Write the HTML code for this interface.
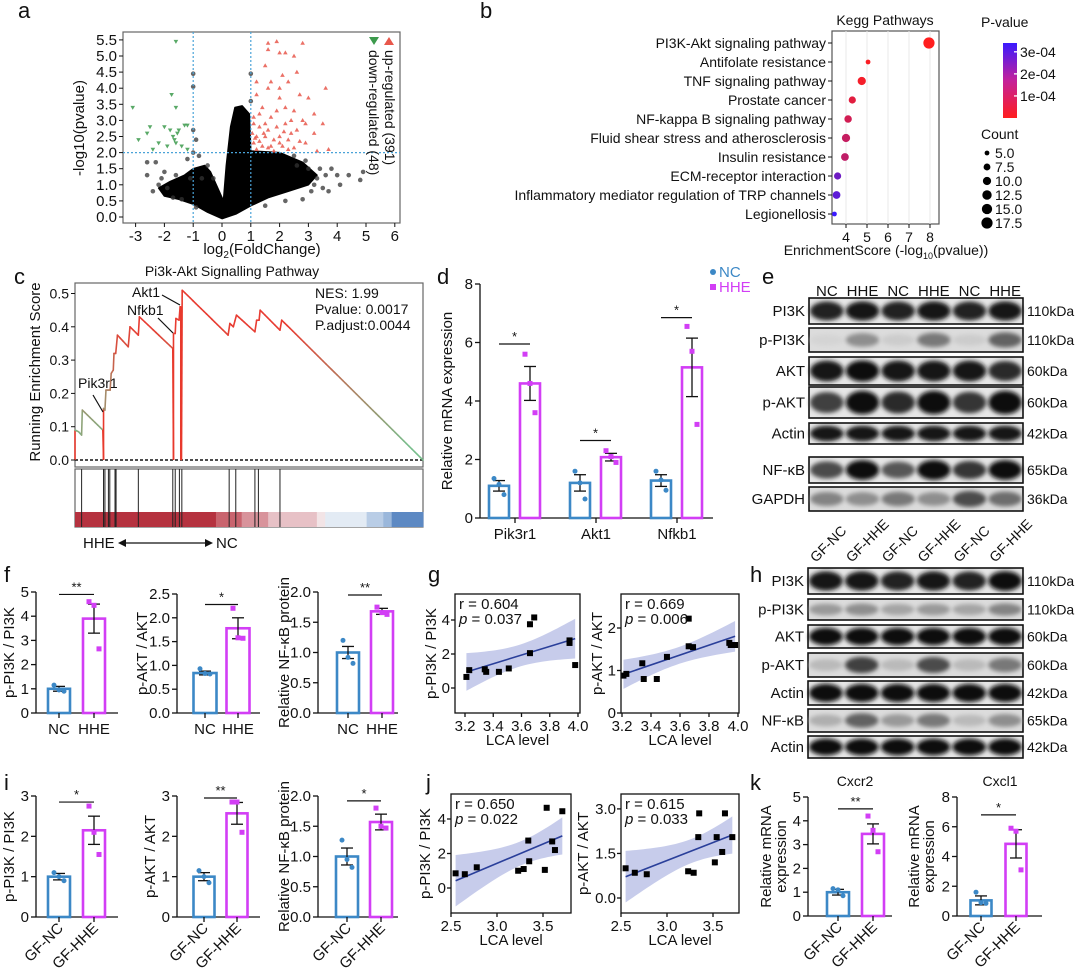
<!DOCTYPE html>
<html><head><meta charset="utf-8"><style>
html,body{margin:0;padding:0;background:#fff}
svg{display:block}
text{font-family:"Liberation Sans",Arial,sans-serif;fill:#111}
</style></head><body>
<svg id="fig" width="1080" height="971" viewBox="0 0 1080 971" xmlns="http://www.w3.org/2000/svg">
<defs>
<filter id="blur" x="-20%" y="-50%" width="140%" height="200%"><feGaussianBlur stdDeviation="2.2"/></filter>
<linearGradient id="pgrad" x1="0" y1="1" x2="0" y2="0"><stop offset="0" stop-color="#ff1e1e"/><stop offset="0.5" stop-color="#c4209a"/><stop offset="1" stop-color="#3a1aff"/></linearGradient>
</defs>
</svg>
<script>
// ---------- DATA ----------
// a: volcano
const upPts=[[1.6,5.4],[1.9,5.45],[2.8,5.4],[1.6,5.2],[2.0,5.1],[2.2,5.1],[2.5,5.0],[1.5,4.7],[2.6,4.5],[2.1,4.4],[1.2,4.2],[1.7,4.2],[2.3,4.2],[1.6,4.0],[2.0,4.0],[2.7,3.8],[3.6,4.0],[1.2,3.8],[2.0,3.7],[3.0,3.7],[1.4,3.4],[2.2,3.4],[2.5,3.3],[3.2,3.2],[1.1,3.1],[1.7,3.1],[2.4,3.0],[2.9,2.9],[3.5,2.9],[1.3,2.8],[1.9,2.8],[2.6,2.7],[3.2,2.6],[1.2,2.5],[1.5,2.5],[2.0,2.5],[2.3,2.4],[2.9,2.3],[1.1,2.3],[1.4,2.2],[1.7,2.2],[2.1,2.2],[2.5,2.15],[3.7,2.1],[1.2,2.1],[1.8,2.05],[3.3,2.05],[1.05,2.6],[1.6,2.7],[2.2,2.9],[1.3,3.2],[1.8,2.4],[2.7,2.35],[1.5,2.9],[2.4,2.6],[1.1,2.9],[1.9,3.3],[2.8,3.0],[1.3,2.35],[1.6,2.15],[2.0,2.3],[2.3,2.1],[1.15,2.45],[1.45,2.6],[2.15,2.65]];
const downPts=[[-1.6,5.45],[-1.75,3.8],[-1.6,3.4],[-3.1,3.4],[-2.5,2.8],[-2.0,2.8],[-1.8,2.7],[-1.5,2.7],[-1.3,2.85],[-1.2,2.85],[-1.55,2.6],[-1.7,2.5],[-2.9,2.4],[-2.2,2.3],[-1.6,2.3],[-1.4,2.2],[-1.9,2.2],[-2.4,2.1],[-1.2,2.1],[-2.6,2.6],[-1.65,2.4]];
const nsPts=[[-1,4.45],[-1,4.05],[1,4.45],[1,3.6],[-2.6,1.3],[-2.6,1.7],[4.9,1.4],[4.8,1.15],[4.4,1.3],[4.1,1.0],[3.8,1.5],[3.5,0.9],[-1.0,2.7],[-0.9,2.4],[-1.0,2.0],[-2.2,1.0],[-2.3,1.7],[-1.7,0.6],[3.0,1.5],[2.6,1.6],[3.3,1.2],[-2.0,1.4],[-1.2,1.8],[-0.8,1.9],[-2.4,0.8],[-2.1,1.2],[-1.9,0.9],[-1.6,1.3],[-1.4,0.55],[-0.9,0.3],[-0.5,1.6],[-0.7,1.2],[-1.1,1.2],[-0.3,1.2],[3.1,0.8],[3.4,1.5],[2.8,0.55],[2.5,1.9],[3.6,1.3],[2.2,0.5],[1.5,0.35],[3.2,1.0],[2.9,1.75],[4.0,1.3],[3.7,0.8]];
const cloudShape=[[0,-0.05],[0.5,0.1],[1,0.35],[1.6,0.6],[2.3,0.8],[3,1.0],[3.3,1.3],[2.8,1.7],[2.0,2.0],[1.0,2.05],[0.95,3.2],[0.7,3.45],[0.45,3.4],[0.3,2.8],[0.15,1.6],[0.05,0.5],[-0.1,0.8],[-0.4,1.4],[-0.6,1.6],[-1.0,1.5],[-1.3,1.3],[-1.8,1.1],[-2.2,0.9],[-2.0,0.65],[-1.5,0.55],[-1.0,0.4],[-0.5,0.15]];
const volXTicks=[-3,-2,-1,0,1,2,3,4,5,6];
const volYTicks=[0,0.5,1,1.5,2,2.5,3,3.5,4,4.5,5,5.5];
// b: KEGG
const keggTerms=['PI3K-Akt signaling pathway','Antifolate resistance','TNF signaling pathway','Prostate cancer','NF-kappa B signaling pathway','Fluid shear stress and atherosclerosis','Insulin resistance','ECM-receptor interaction','Inflammatory mediator regulation of TRP channels','Legionellosis'];
const keggScore=[7.95,5.05,4.75,4.3,4.1,4.0,3.95,3.6,3.55,3.45];
const keggCount=[17.5,5,10,8,8.5,10,9,8,9,5];
const keggP=[1e-8,9e-6,1.8e-5,5e-5,8e-5,1e-4,1.1e-4,2.5e-4,2.8e-4,3.4e-4];
const keggXTicks=[4,5,6,7,8];
const countLegend=[5.0,7.5,10.0,12.5,15.0,17.5];
// c: GSEA
const gseaRank=[0,0,10,19,21,80,82,82,86,89,101,104,110,112,117,122,153,158,182,185,281,283,283,288,290,299,302,304,304,306,308,440,445,455,464,517,522,529,532,589,594,1000];
const gseaES=[0,0.09,0.085,0.075,0.15,0.09,0,0.155,0.15,0.21,0.21,0.26,0.27,0.32,0.32,0.375,0.34,0.40,0.375,0.43,0.335,0,0.38,0.38,0.425,0.42,0.46,0.46,0,0,0.51,0.375,0.41,0.40,0.435,0.385,0.42,0.42,0.45,0.39,0.42,0];
const gseaHits=[19,82,86,96,100,115,118,182,281,288,300,307,443,462,517,527,589];
const gseaYTicks=[0,0.1,0.2,0.3,0.4,0.5];
// d
const dGenes=['Pik3r1','Akt1','Nfkb1'];
const dNC=[1.1,1.2,1.28], dNCsem=[0.18,0.28,0.2];
const dHHE=[4.6,2.08,5.15], dHHEsem=[0.58,0.13,1.0];
const dNCpts=[[1.35,1.15,0.8],[1.6,1.2,0.65],[1.6,1.3,0.95]];
const dHHEpts=[[5.6,4.6,3.6],[2.3,2.1,1.9],[6.55,5.7,3.2]];
const dSig=[5.95,2.65,6.85];
// f
const f1Means=[1.0,3.9], f1Sems=[0.1,0.6], f1Pts=[[1.15,0.95,0.9],[4.6,4.45,2.65]];
const f2Means=[0.84,1.78], f2Sems=[0.04,0.22], f2Pts=[[0.93,0.83,0.82],[2.2,1.58,1.57]];
const f3Means=[1.0,1.68], f3Sems=[0.1,0.05], f3Pts=[[1.2,0.92,0.82],[1.75,1.66,1.63]];
// i
const i1Means=[1.0,2.15], i1Sems=[0.08,0.35], i1Pts=[[1.1,1.0,0.9],[2.75,2.1,1.55]];
const i2Means=[1.0,2.57], i2Sems=[0.1,0.27], i2Pts=[[1.15,1.0,0.85],[2.85,2.85,2.1]];
const i3Means=[1.0,1.57], i3Sems=[0.14,0.13], i3Pts=[[1.27,0.95,0.82],[1.8,1.5,1.47]];
// k
const k1Means=[1.0,3.45], k1Sems=[0.12,0.42], k1Pts=[[1.15,1.1,0.85],[4.2,3.6,2.7]];
const k2Means=[1.05,4.85], k2Sems=[0.3,0.95], k2Pts=[[1.6,0.9,0.85],[5.9,5.7,3.1]];
// g / j scatter
const g1X=[3.21,3.23,3.34,3.35,3.44,3.51,3.66,3.66,3.69,3.94,3.94,3.98], g1Y=[0.65,1.05,1.1,0.95,0.95,1.15,2.05,3.75,4.15,2.8,2.65,1.35];
const g2X=[3.21,3.23,3.34,3.35,3.44,3.51,3.66,3.69,3.66,3.94,3.95,3.98], g2Y=[0.88,0.92,1.17,0.8,0.8,1.32,1.57,1.55,2.22,1.65,1.6,1.6];
const j1X=[2.55,2.65,2.78,3.23,3.29,3.34,3.35,3.52,3.54,3.6,3.63,3.71], j1Y=[0.85,0.8,1.2,1.0,1.1,2.75,1.55,1.05,4.65,2.7,2.2,4.45];
const j2X=[2.55,2.65,2.78,3.23,3.29,3.34,3.35,3.52,3.54,3.6,3.63,3.71], j2Y=[1.0,0.85,0.8,0.9,0.85,2.05,2.85,1.2,2.05,1.55,2.85,2.05];
// blots
const eLanes=['NC','HHE','NC','HHE','NC','HHE'];
const eRows=['PI3K','p-PI3K','AKT','p-AKT','Actin','NF-κB','GAPDH'];
const eKda=['110kDa','110kDa','60kDa','60kDa','42kDa','65kDa','36kDa'];
const eInt=[[0.9,0.95,0.9,0.95,0.9,0.95],[0.08,0.4,0.12,0.5,0.12,0.6],[0.95,1,0.95,0.95,0.95,0.85],[0.75,1,0.85,1,0.8,1],[0.95,0.95,0.95,0.95,0.95,0.95],[0.7,1,0.65,1,0.8,1],[0.45,0.4,0.5,0.4,0.7,0.55]];
const hLanes=['GF-NC','GF-HHE','GF-NC','GF-HHE','GF-NC','GF-HHE'];
const hRows=['PI3K','p-PI3K','AKT','p-AKT','Actin','NF-κB','Actin'];
const hKda=['110kDa','110kDa','60kDa','60kDa','42kDa','65kDa','42kDa'];
const hInt=[[0.95,0.95,0.9,0.95,0.9,1],[0.35,0.4,0.3,0.35,0.3,0.45],[1,1,1,1,1,1],[0.2,0.75,0.2,0.7,0.2,0.5],[1,1,1,1,1,1],[0.25,0.6,0.35,0.5,0.2,0.4],[1,1,1,1,1,1]];

// ---------- HELPERS ----------
const NS='http://www.w3.org/2000/svg';
const svg=document.getElementById('fig');
const BLUE='#3c88c6', MAG='#d23ef5';
function mk(tag,a,name,parent){
  const el=document.createElementNS(NS,tag);
  for(const k in a) el.setAttribute(k,a[k]);
  
  
  (parent||svg).appendChild(el);
  return el;
}
function tx(x,y,s,o,name){const el=mk('text',Object.assign({x:x,y:y,'font-size':14},o||{}),name);el.textContent=s;return el;}
function ln(x1,y1,x2,y2,o,name){return mk('line',Object.assign({x1:x1,y1:y1,x2:x2,y2:y2,stroke:'#111','stroke-width':1.3},o||{}),name);}

[['a',18,18],['b',480,18],['c',14,284],['d',437,284],['e',762,284],['f',4,582],['g',428,582],['h',750,582],['i',4,790],['j',426,790],['k',750,790]].forEach(p=>tx(p[1],p[2],p[0],{'font-size':22},'panel-label-'+p[0]));

// ---------- a: volcano ----------
(function(){
  const X=v=>222+v*28.8, Y=v=>217-v*32.2;
  mk('rect',{x:123,y:32,width:277,height:191,fill:'none',stroke:'#666','stroke-width':1.2},'volcano-frame');
  mk('polygon',{points:cloudShape.map(p=>X(p[0])+','+Y(p[1])).join(' '),fill:'#000','stroke':'#000','stroke-width':1.5,'stroke-linejoin':'round'},'ns-gene-cloud');
  nsPts.forEach(p=>mk('circle',{cx:X(p[0]),cy:Y(p[1]),r:2.3,fill:'#333','fill-opacity':0.75},'ns-point'));
  upPts.forEach(p=>{const x=X(p[0]),y=Y(p[1]);mk('polygon',{points:`${x},${y-2.4} ${x-2.3},${y+1.6} ${x+2.3},${y+1.6}`,fill:'#e8574b','fill-opacity':0.85},'up-point');});
  downPts.forEach(p=>{const x=X(p[0]),y=Y(p[1]);mk('polygon',{points:`${x},${y+2.4} ${x-2.3},${y-1.6} ${x+2.3},${y-1.6}`,fill:'#3c9a4c','fill-opacity':0.85},'down-point');});
  [-1,1].forEach(v=>ln(X(v),32,X(v),223,{stroke:'#4aa3d8','stroke-dasharray':'2,2','stroke-width':1.2},'fc-threshold'));
  ln(123,Y(2),400,Y(2),{stroke:'#4aa3d8','stroke-dasharray':'2,2','stroke-width':1.2},'p-threshold');
  volXTicks.forEach(v=>{ln(X(v),223,X(v),227,{'stroke-width':1},'x-tick');tx(X(v),241,String(v),{'text-anchor':'middle','font-size':15},'x-tick-label');});
  volYTicks.forEach(v=>{ln(119,Y(v),123,Y(v),{'stroke-width':1},'y-tick');tx(117,Y(v)+5,v.toFixed(1),{'text-anchor':'end','font-size':15},'y-tick-label');});
  const xl=tx(262,254,'log',{'text-anchor':'middle','font-size':15},'x-axis-title');
  xl.innerHTML='log<tspan font-size="10" dy="4">2</tspan><tspan dy="-4">(FoldChange)</tspan>';
  tx(0,0,'-log10(pvalue)',{'text-anchor':'middle','font-size':15,transform:'translate(84,128) rotate(-90)'},'y-axis-title');
  mk('polygon',{points:'369,37 379,37 374,45',fill:'#3c9a4c'},'legend-down-marker');
  mk('polygon',{points:'384,45 394,45 389,37',fill:'#e8574b'},'legend-up-marker');
  tx(0,0,'up-regulated (391)',{'font-size':14,transform:'translate(385,50) rotate(90)'},'legend-up-label');
  tx(0,0,'down-regulated (48)',{'font-size':14,transform:'translate(369,50) rotate(90)'},'legend-down-label');
})();

// ---------- b: KEGG dot plot ----------
(function(){
  const X=v=>846+(v-4)*21, rowY=i=>43+i*19;
  mk('rect',{x:832,y:31,width:107,height:193,fill:'none',stroke:'#555','stroke-width':1.2},'kegg-frame');
  keggXTicks.forEach(v=>ln(X(v),31,X(v),224,{stroke:'#e8e8e8','stroke-width':1},'kegg-grid'));
  tx(885,25,'Kegg Pathways',{'text-anchor':'middle','font-size':14},'kegg-title');
  const pmax=3.4e-4;
  function pcol(p){const t=Math.min(1,p/pmax);const r=Math.round(255+(58-255)*t),g=Math.round(30+(26-30)*t),b=Math.round(30+(255-30)*t);return `rgb(${r},${g},${b})`;}
  const rad=c=>1.2+Math.sqrt((c-4)/13.5)*4.4;
  keggTerms.forEach((t,i)=>{
    tx(826,rowY(i)+5,t,{'text-anchor':'end','font-size':14},'kegg-term-label');
    ln(828,rowY(i),832,rowY(i),{'stroke-width':1},'y-tick');
    mk('circle',{cx:X(keggScore[i]),cy:rowY(i),r:rad(keggCount[i]),fill:pcol(keggP[i])},'kegg-dot');
  });
  keggXTicks.forEach(v=>{ln(X(v),224,X(v),228,{'stroke-width':1},'x-tick');tx(X(v),242,String(v),{'text-anchor':'middle','font-size':14},'x-tick-label');});
  const xl=tx(886,255,'',{'text-anchor':'middle','font-size':14},'x-axis-title');
  xl.innerHTML='EnrichmentScore (-log<tspan font-size="9" dy="4">10</tspan><tspan dy="-4">(pvalue))</tspan>';
  tx(981,27,'P-value',{'font-size':14},'pvalue-legend-title');
  mk('rect',{x:1003,y:43,width:14,height:75,fill:'url(#pgrad)'},'pvalue-colorbar');
  [['3e-04',3e-4],['2e-04',2e-4],['1e-04',1e-4]].forEach(p=>{const y=118-p[1]/pmax*75;ln(1014,y,1017,y,{stroke:'#fff'},'cb-tick');tx(1020,y+5,p[0],{'font-size':14},'colorbar-label');});
  tx(981,139,'Count',{'font-size':14},'count-legend-title');
  countLegend.forEach((c,i)=>{const y=153+i*14;mk('circle',{cx:987,cy:y,r:rad(c),fill:'#000'},'count-legend-dot');tx(995,y+5,c.toFixed(1),{'font-size':14},'count-legend-label');});
})();

// ---------- c: GSEA ----------
(function(){
  const X=r=>75+r/1000*348, Y=v=>460-v*333;
  mk('rect',{x:75,y:283,width:348,height:184,fill:'none',stroke:'#666','stroke-width':1.2},'gsea-frame');
  tx(232,276,'Pi3k-Akt Signalling Pathway',{'text-anchor':'middle','font-size':14},'gsea-title');
  ln(75,Y(0),423,Y(0),{'stroke-dasharray':'3,2','stroke-width':1.6},'zero-line');
  const colOf=e=>{const t=Math.max(0,Math.min(1,(e-0.04)/0.36));return `rgb(${Math.round(120+(232-120)*t)},${Math.round(190+(60-190)*t)},${Math.round(140+(50-140)*t)})`;};
  for(let i=1;i<gseaRank.length;i++){
    const r0=gseaRank[i-1],r1=gseaRank[i],e0=gseaES[i-1],e1=gseaES[i];
    if(r1-r0<=2&&(e1===0||e0===0)){ln(X(r0),Y(e0),X(r1),Y(e1),{stroke:'#e8392c','stroke-width':1.6},'es-curve-drop');continue;}
    const n=Math.max(1,Math.ceil((r1-r0)/8));
    for(let k=0;k<n;k++){
      const ra=r0+(r1-r0)*k/n,rb=r0+(r1-r0)*(k+1)/n,ea=e0+(e1-e0)*k/n,eb=e0+(e1-e0)*(k+1)/n;
      ln(X(ra),Y(ea),X(rb),Y(eb),{stroke:colOf((ea+eb)/2),'stroke-width':1.6,'stroke-linecap':'round'},'es-curve-segment');
    }
  }
  gseaYTicks.forEach(v=>{ln(71,Y(v),75,Y(v),{'stroke-width':1},'y-tick');tx(69,Y(v)+5,v.toFixed(1),{'text-anchor':'end','font-size':14},'y-tick-label');});
  tx(0,0,'Running Enrichment Score',{'text-anchor':'middle','font-size':15,transform:'translate(40,372) rotate(-90)'},'y-axis-title');
  tx(315,298,'NES: 1.99',{'font-size':14},'nes-text');
  tx(315,314,'Pvalue: 0.0017',{'font-size':14},'pvalue-text');
  tx(315,330,'P.adjust:0.0044',{'font-size':14},'padjust-text');
  tx(78,388,'Pik3r1',{'font-size':14},'gene-label-pik3r1');
  ln(93,395,103,412,{'stroke-width':1.2},'arrow-pik3r1');
  tx(127,315,'Nfkb1',{'font-size':14},'gene-label-nfkb1');
  ln(158,318,173,333,{'stroke-width':1.2},'arrow-nfkb1');
  tx(132,297,'Akt1',{'font-size':14},'gene-label-akt1');
  ln(162,295,180,305,{'stroke-width':1.2},'arrow-akt1');
  mk('rect',{x:75,y:469,width:348,height:58,fill:'none',stroke:'#666','stroke-width':1.2},'rug-frame');
  const segs=[[0,405,'#b5323f'],[405,479,'#c9646e'],[479,555,'#d8939b'],[555,695,'#e7c1c6'],[695,719,'#f2e4e6'],[719,838,'#e3ebf4'],[838,886,'#b9cde6'],[886,910,'#9ab7db'],[910,1000,'#5d89c3']];
  segs.forEach(s=>mk('rect',{x:X(s[0]),y:512,width:X(s[1])-X(s[0])+0.5,height:15,fill:s[2]},'rank-colorbar-segment'));
  gseaHits.forEach(r=>ln(X(r),469,X(r),527,{stroke:'#222','stroke-width':1},'hit-line'));
  tx(83,548,'HHE',{'font-size':15},'hhe-label');
  ln(123,543,208,543,{'stroke-width':1.3},'direction-arrow');
  mk('polygon',{points:'118,543 126,539 126,547',fill:'#111'},'arrow-head-left');
  mk('polygon',{points:'213,543 205,539 205,547',fill:'#111'},'arrow-head-right');
  tx(216,548,'NC',{'font-size':15},'nc-label');
})();

// ---------- generic bar chart ----------
function barChart(c){
  const Y=v=>c.y0-v/c.vmax*(c.y0-c.yTop);
  ln(c.axX,Y(c.vmax),c.axX,c.y0,{},'y-axis-line');
  ln(c.axX,c.y0,c.xEnd,c.y0,{},'x-axis-line');
  c.ticks.forEach(v=>{ln(c.axX-5,Y(v),c.axX,Y(v),{},'y-tick');tx(c.axX-7,Y(v)+5,c.fmt(v),{'text-anchor':'end','font-size':c.fs||15},'y-tick-label');});
  c.means.forEach((m,i)=>{
    const cx=c.centers[i],col=c.colors[i];
    mk('rect',{x:cx-c.bw/2,y:Y(m),width:c.bw,height:c.y0-Y(m),fill:'#fff',stroke:col,'stroke-width':2.6},'bar-'+c.names[i]);
    ln(cx,Y(m-c.sems[i]),cx,Y(m+c.sems[i]),{'stroke-width':1.3},'error-bar');
    ln(cx-6,Y(m-c.sems[i]),cx+6,Y(m-c.sems[i]),{'stroke-width':1.3},'error-cap');
    ln(cx-6,Y(m+c.sems[i]),cx+6,Y(m+c.sems[i]),{'stroke-width':1.3},'error-cap');
    const offs=[-5,0,5];
    c.pts[i].forEach((v,j)=>{
      if(c.square[i]) mk('rect',{x:cx+offs[j]-2.5,y:Y(v)-2.5,width:5,height:5,fill:col},'data-point');
      else mk('circle',{cx:cx+offs[j],cy:Y(v),r:2.5,fill:col},'data-point');
    });
  });
  c.xTicks.forEach((x,i)=>{
    ln(x,c.y0,x,c.y0+5,{},'x-tick');
    if(c.rot) tx(0,0,c.xLabels[i],{'text-anchor':'end','font-size':15,transform:`translate(${x+5},${c.y0+12}) rotate(-45)`},'x-tick-label');
    else tx(x,c.y0+21,c.xLabels[i],{'text-anchor':'middle','font-size':15},'x-tick-label');
  });
  c.sigs.forEach(s=>{ln(s[0],Y(s[2]),s[1],Y(s[2]),{'stroke-width':1.2},'significance-bar');tx((s[0]+s[1])/2,Y(s[2])-3,s[3],{'text-anchor':'middle','font-size':13},'significance-stars');});
  c.ylab.forEach((l,k)=>tx(0,0,l,{'text-anchor':'middle','font-size':15,transform:`translate(${c.ylabX+k*15},${(c.y0+Y(c.vmax))/2}) rotate(-90)`},'y-axis-title'));
}
const f0=v=>String(v), f1=v=>v.toFixed(1);
function pair(axX,y0,yTop,vmax,ticks,fmt,cA,cB,bw,means,sems,pts,labels,rot,sig,sigV,ylab,ylabX,xEnd){
  barChart({axX,y0,yTop,vmax,ticks,fmt,centers:[cA,cB],bw,means,sems,pts,colors:[BLUE,MAG],square:[false,true],names:['nc','hhe'],xTicks:[cA,cB],xLabels:labels,rot,sigs:[[cA,cB,sigV,sig]],ylab,ylabX,xEnd});
}
// d
(function(){
  const centers=[],means=[],sems=[],pts=[],colors=[],square=[],names=[],sigs=[],ticksX=[515,596,677];
  dGenes.forEach((g,i)=>{const t=ticksX[i];centers.push(t-16,t+15);means.push(dNC[i],dHHE[i]);sems.push(dNCsem[i],dHHEsem[i]);pts.push(dNCpts[i],dHHEpts[i]);colors.push(BLUE,MAG);square.push(false,true);names.push('nc-'+g,'hhe-'+g);sigs.push([t-16,t+15,dSig[i],'*']);});
  barChart({axX:480,y0:518,yTop:284,vmax:8,ticks:[0,2,4,6,8],fmt:f0,centers,bw:20,means,sems,pts,colors,square,names,xTicks:ticksX,xLabels:dGenes,rot:false,sigs,ylab:['Relative mRNA expression'],ylabX:452,xEnd:713});
  mk('circle',{cx:713,cy:272,r:3,fill:BLUE},'legend-nc-marker');
  tx(719,277,'NC',{'font-size':15,style:'fill:'+BLUE},'legend-nc-label');
  mk('rect',{x:710,y:284,width:6,height:6,fill:MAG},'legend-hhe-marker');
  tx(719,292,'HHE',{'font-size':15,style:'fill:'+MAG},'legend-hhe-label');
})();
// f
pair(36,713,592,5,[0,1,2,3,4,5],f0,59,94,22,f1Means,f1Sems,f1Pts,['NC','HHE'],false,'**',4.9,['p-PI3K / PI3K'],14,118);
pair(177,713,594,2.5,[0,0.5,1,1.5,2,2.5],f1,205,238,23,f2Means,f2Sems,f2Pts,['NC','HHE'],false,'*',2.28,['p-AKT / AKT'],147,260);
pair(318,713,592,2,[0,0.5,1,1.5,2],f1,348,382,22,f3Means,f3Sems,f3Pts,['NC','HHE'],false,'**',1.95,['Relative NF-κB protein'],289,398);
// i
pair(36,917,796,3,[0,1,2,3],f0,59,94,22,i1Means,i1Sems,i1Pts,['GF-NC','GF-HHE'],true,'*',2.85,['p-PI3K / PI3K'],14,118);
pair(177,917,796,3,[0,1,2,3],f0,204,237,21,i2Means,i2Sems,i2Pts,['GF-NC','GF-HHE'],true,'**',2.95,['p-AKT / AKT'],155,260);
pair(318,917,796,2,[0,0.5,1,1.5,2],f1,347,381,22,i3Means,i3Sems,i3Pts,['GF-NC','GF-HHE'],true,'*',1.92,['Relative NF-κB protein'],289,398);
// k
pair(808,916,797,5,[0,1,2,3,4,5],f0,838,873,22,k1Means,k1Sems,k1Pts,['GF-NC','GF-HHE'],true,'**',4.5,['Relative mRNA','expression'],771,892);
pair(957,916,797,8,[0,2,4,6,8],f0,981,1016,21,k2Means,k2Sems,k2Pts,['GF-NC','GF-HHE'],true,'*',6.8,['Relative mRNA','expression'],919,1042);
tx(855,786,'Cxcr2',{'text-anchor':'middle','font-size':14},'k-title-cxcr2');
tx(1000,786,'Cxcl1',{'text-anchor':'middle','font-size':14},'k-title-cxcl1');

// ---------- scatter ----------
function scatter(c,xs,ys){
  const X=v=>c.x0+(v-c.xv0)*c.xs, Y=v=>c.y0-v*c.ys;
  const n=xs.length,mx=xs.reduce((a,b)=>a+b)/n,my=ys.reduce((a,b)=>a+b)/n;
  let sxx=0,sxy=0;xs.forEach((x,i)=>{sxx+=(x-mx)**2;sxy+=(x-mx)*(ys[i]-my);});
  const b=sxy/sxx,a=my-b*mx;let sse=0;xs.forEach((x,i)=>sse+=(ys[i]-a-b*x)**2);
  const s=Math.sqrt(sse/(n-2)),xmin=Math.min(...xs),xmax=Math.max(...xs);
  const up=[],lo=[];
  for(let k=0;k<=30;k++){const x=xmin+(xmax-xmin)*k/30,yh=a+b*x,se=2.23*s*Math.sqrt(1/n+(x-mx)**2/sxx);up.push(X(x)+','+Y(yh+se));lo.unshift(X(x)+','+Y(yh-se));}
  mk('polygon',{points:up.concat(lo).join(' '),fill:'#b9bfe6','fill-opacity':0.8},'confidence-band');
  ln(X(xmin),Y(a+b*xmin),X(xmax),Y(a+b*xmax),{stroke:'#2a3f9a','stroke-width':1.6},'regression-line');
  xs.forEach((x,i)=>mk('rect',{x:X(x)-3,y:Y(ys[i])-3,width:6,height:6,fill:'#000'},'scatter-point'));
  mk('rect',{x:c.bx,y:c.by,width:c.bw,height:c.bh,fill:'none',stroke:'#111','stroke-width':1.3},'plot-frame');
  c.xt.forEach(v=>{ln(X(v),c.by+c.bh,X(v),c.by+c.bh+4,{},'x-tick');tx(X(v),c.by+c.bh+18,c.xf(v),{'text-anchor':'middle','font-size':15},'x-tick-label');});
  c.yt.forEach(v=>{ln(c.bx-4,Y(v),c.bx,Y(v),{},'y-tick');tx(c.bx-5,Y(v)+5,c.yf(v),{'text-anchor':'end','font-size':15},'y-tick-label');});
  tx(c.bx+c.bw/2,c.by+c.bh+32,'LCA level',{'text-anchor':'middle','font-size':15},'x-axis-title');
  tx(0,0,c.ylab,{'text-anchor':'middle','font-size':15,transform:`translate(${c.ylx},${c.by+c.bh/2}) rotate(-90)`},'y-axis-title');
  tx(c.bx+4,c.by+15,'r = '+c.r,{'font-size':15},'r-value');
  const p=tx(c.bx+4,c.by+30,'',{'font-size':15},'p-value');p.innerHTML='<tspan font-style="italic">p</tspan> = '+c.p;
}
const f2d=v=>v.toFixed(1);
scatter({x0:465,xv0:3.2,xs:141.25,y0:688,ys:17,bx:455,by:594,bw:125,bh:119,xt:[3.2,3.4,3.6,3.8,4.0],xf:f2d,yt:[0,2,4],yf:f0,ylab:'p-PI3K / PI3K',ylx:436,r:'0.604',p:'0.037'},g1X,g1Y);
scatter({x0:622,xv0:3.2,xs:145,y0:713,ys:42.5,bx:621,by:594,bw:118,bh:119,xt:[3.2,3.4,3.6,3.8,4.0],xf:f2d,yt:[0,1,2],yf:f0,ylab:'p-AKT / AKT',ylx:602,r:'0.669',p:'0.006'},g2X,g2Y);
scatter({x0:451,xv0:2.5,xs:92,y0:888,ys:17.25,bx:451,by:794,bw:120,bh:119,xt:[2.5,3.0,3.5],xf:f2d,yt:[0,2,4],yf:f0,ylab:'p-PI3K / PI3K',ylx:430,r:'0.650',p:'0.022'},j1X,j1Y);
scatter({x0:621,xv0:2.5,xs:92,y0:898,ys:29.7,bx:621,by:794,bw:118,bh:119,xt:[2.5,3.0,3.5],xf:f2d,yt:[0,1.5,3],yf:f1,ylab:'p-AKT / AKT',ylx:588,r:'0.615',p:'0.033'},j2X,j2Y);

// ---------- blots ----------
function blot(rows,kda,ints,lanes,rects,bx,bw,rotLanes,hy,prefix){
  const lw=bw/6;
  lanes.forEach((l,i)=>{const cx=bx+lw*(i+0.5);
    if(rotLanes) tx(0,0,l,{'font-size':14,transform:`translate(${cx-10},${hy}) rotate(-45)`},prefix+'-lane-label');
    else tx(cx,hy,l,{'text-anchor':'middle','font-size':15},prefix+'-lane-label');});
  rows.forEach((r,k)=>{
    const y=rects[k][0],h=rects[k][1]-rects[k][0];
    const faint=Math.max(...ints[k])<0.8;
    mk('rect',{x:bx,y:y,width:bw,height:h,fill:faint?'#dcdcdc':'#e6e6e6',stroke:'#111','stroke-width':1.6},prefix+'-blot-strip');
    ints[k].forEach((v,i)=>{const cx=bx+lw*(i+0.5);
      const g=Math.round(230-v*220);
      mk('ellipse',{cx:cx,cy:y+h/2,rx:lw*0.47,ry:h*(0.22+0.16*v),fill:`rgb(${g},${g},${g})`,filter:'url(#blur)'},prefix+'-band');});
    tx(bx-4,y+h/2+5,r,{'text-anchor':'end','font-size':15},prefix+'-row-label');
    tx(bx+bw+4,y+h/2+5,kda[k],{'font-size':14},prefix+'-kda-label');
  });
}
blot(eRows,eKda,eInt,eLanes,[[298,324],[328,352],[357,385],[387,418],[423,444],[457,483],[487,511]],809,214,false,296,'e');
blot(hRows,hKda,hInt,hLanes,[[568,594],[599,620],[625,648],[653,677],[681,705],[709,732],[736,758]],808,215,true,563,'h');
</script>
</body></html>
